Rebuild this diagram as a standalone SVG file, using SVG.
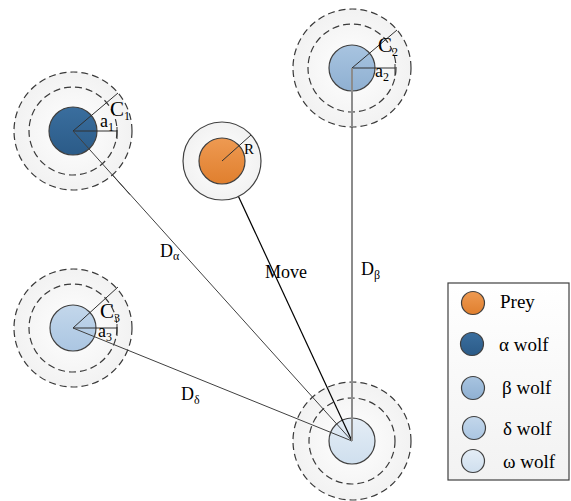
<svg xmlns="http://www.w3.org/2000/svg" width="571" height="501" viewBox="0 0 571 501">
<defs>
<radialGradient id="ring" cx="50%" cy="50%" r="50%">
<stop offset="0" stop-color="#ffffff"/><stop offset="1" stop-color="#f2f2f2"/>
</radialGradient>
<linearGradient id="gPrey" x1="0" y1="0" x2="0" y2="1"><stop offset="0" stop-color="#EE9A52"/><stop offset="1" stop-color="#E07F2E"/></linearGradient>
<linearGradient id="gAlpha" x1="0" y1="0" x2="0" y2="1"><stop offset="0" stop-color="#3A6E9E"/><stop offset="1" stop-color="#2B5B88"/></linearGradient>
<linearGradient id="gBeta" x1="0" y1="0" x2="0" y2="1"><stop offset="0" stop-color="#A8C4E0"/><stop offset="1" stop-color="#8FB0D2"/></linearGradient>
<linearGradient id="gDelta" x1="0" y1="0" x2="0" y2="1"><stop offset="0" stop-color="#C3D7EB"/><stop offset="1" stop-color="#ABC6E2"/></linearGradient>
<linearGradient id="gOmega" x1="0" y1="0" x2="0" y2="1"><stop offset="0" stop-color="#E4EDF6"/><stop offset="1" stop-color="#CFDFEE"/></linearGradient>
<linearGradient id="gLeg" x1="0" y1="0" x2="0" y2="1"><stop offset="0" stop-color="#ffffff"/><stop offset="1" stop-color="#f2f2f2"/></linearGradient>
</defs>
<style>
.dash{fill:none;stroke:#3a3a3a;stroke-width:1.2;stroke-dasharray:7 4}
.halo{fill:url(#ring);stroke:none}
.core{stroke:#404040;stroke-width:1.2}
.rad{stroke:#303030;stroke-width:1;fill:none}
.t{font-family:"Liberation Serif","Times New Roman",serif;fill:#000}
.big{font-size:21px}
.mid{font-size:18px}
.sub{font-size:12px}
.leg{font-size:19px}
</style>
<rect width="571" height="501" fill="#ffffff"/>

<g id="omega">
<circle class="halo" cx="352" cy="441" r="59"/>
<circle class="dash" cx="352" cy="441" r="59"/>
<circle class="dash" cx="352" cy="441" r="43"/>
<circle class="core" cx="352" cy="441" r="23" fill="url(#gOmega)"/>
</g>

<g id="connectors">
<line x1="73" y1="131" x2="352" y2="441" stroke="#404040" stroke-width="1"/>
<line x1="73" y1="328" x2="352" y2="441" stroke="#404040" stroke-width="1"/>
<line x1="222" y1="161" x2="352" y2="441" stroke="#000" stroke-width="1.2"/>
<line x1="352" y1="68" x2="352" y2="441" stroke="#8c8c8c" stroke-width="2"/>
<text class="t mid" x="160" y="257">D<tspan class="sub" dy="3">α</tspan></text>
<text class="t mid" x="265" y="278">Move</text>
<text class="t mid" x="361" y="275">D<tspan class="sub" dy="4">β</tspan></text>
<text class="t mid" x="181" y="400">D<tspan class="sub" dy="4">δ</tspan></text>
</g>

<g id="alpha">
<circle class="halo" cx="73" cy="131" r="59"/>
<circle class="dash" cx="73" cy="131" r="59"/>
<circle class="dash" cx="73" cy="131" r="44"/>
<circle class="core" cx="73" cy="131" r="24" fill="url(#gAlpha)"/>
<line class="rad" x1="73" y1="131" x2="118" y2="93"/>
<line class="rad" x1="73" y1="131" x2="117" y2="131"/>
<line class="rad" x1="117" y1="127" x2="117" y2="139"/>
<line x1="73" y1="131" x2="130" y2="194.7" stroke="#404040" stroke-width="1"/>
<text class="t big" x="110" y="116">C<tspan class="sub" dy="4">1</tspan></text>
<text class="t mid" x="100" y="127">a<tspan class="sub" dy="4">1</tspan></text>
</g>

<g id="beta">
<circle class="halo" cx="352" cy="68" r="59"/>
<circle class="dash" cx="352" cy="68" r="59"/>
<circle class="dash" cx="352" cy="68" r="44"/>
<circle class="core" cx="352" cy="68" r="23" fill="url(#gBeta)"/>
<line class="rad" x1="352" y1="68" x2="397" y2="30"/>
<line class="rad" x1="352" y1="68" x2="395" y2="68"/>
<line class="rad" x1="395" y1="64" x2="395" y2="76"/>
<line x1="352" y1="68" x2="352" y2="127" stroke="#8c8c8c" stroke-width="2"/>
<text class="t big" x="378" y="52">C<tspan class="sub" dy="4">2</tspan></text>
<text class="t mid" x="375" y="77">a<tspan class="sub" dy="4">2</tspan></text>
</g>

<g id="delta">
<circle class="halo" cx="73" cy="328" r="59"/>
<circle class="dash" cx="73" cy="328" r="59" stroke-width="1.5"/>
<circle class="dash" cx="73" cy="328" r="44"/>
<circle class="core" cx="73" cy="328" r="23" fill="url(#gDelta)"/>
<line class="rad" x1="73" y1="328" x2="118" y2="287"/>
<line class="rad" x1="73" y1="328" x2="117" y2="328"/>
<line class="rad" x1="117" y1="324" x2="117" y2="336"/>
<line x1="73" y1="328" x2="128" y2="350.3" stroke="#404040" stroke-width="1"/>
<text class="t big" x="100" y="318">C<tspan class="sub" dy="4">3</tspan></text>
<text class="t mid" x="98" y="337">a<tspan class="sub" dy="4">3</tspan></text>
</g>

<g id="prey">
<circle cx="222" cy="161" r="39" fill="url(#ring)" stroke="#404040" stroke-width="1.2"/>
<circle class="core" cx="222" cy="161" r="23" fill="url(#gPrey)"/>
<line class="rad" x1="222" y1="161" x2="251" y2="135"/>
<text class="t" style="font-size:15px" x="244" y="154">R</text>
</g>

<g id="legend">
<rect x="448" y="283" width="121" height="197" fill="url(#gLeg)" stroke="#404040" stroke-width="1.2"/>
<circle class="core" cx="473" cy="303" r="11.5" fill="url(#gPrey)"/>
<text class="t leg" x="500" y="308">Prey</text>
<circle class="core" cx="472" cy="344" r="11.5" fill="url(#gAlpha)"/>
<text class="t leg" x="499" y="351">α wolf</text>
<circle class="core" cx="473" cy="388" r="11.5" fill="url(#gBeta)"/>
<text class="t leg" x="502" y="394">β wolf</text>
<circle class="core" cx="474" cy="428" r="11.5" fill="url(#gDelta)"/>
<text class="t leg" x="503" y="435">δ wolf</text>
<circle class="core" cx="473" cy="461" r="11.5" fill="url(#gOmega)"/>
<text class="t leg" x="503" y="468">ω wolf</text>
</g>
</svg>
